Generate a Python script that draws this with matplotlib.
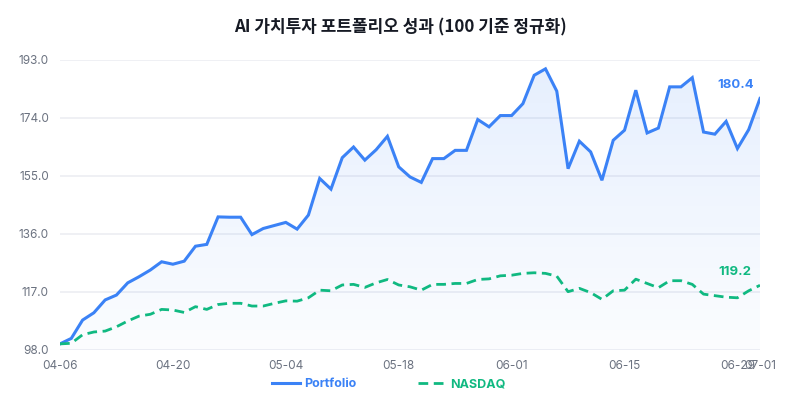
import matplotlib
matplotlib.use("Agg")
import matplotlib.pyplot as plt
import numpy as np
import pandas as pd
from matplotlib.colors import LinearSegmentedColormap

plt.rcParams['font.family'] = ['Inter', 'Noto Sans CJK KR', 'DejaVu Sans']

# 영업일 기준 (04-06 ~ 07-01)
dates = pd.bdate_range("2026-04-06", "2026-07-01").strftime("%m-%d").tolist()

portfolio = [
    100.0, 101.8, 107.8, 110.2, 114.4, 116.0, 120.0, 122.0, 124.2, 126.9,
    126.1, 127.1, 132.0, 132.6, 141.6, 141.5, 141.5, 135.8, 137.8, 138.8,
    139.8, 137.6, 142.2, 154.2, 150.7, 161.0, 164.5, 160.2, 163.6, 168.0,
    158.0, 154.7, 152.9, 160.7, 160.7, 163.4, 163.4, 173.5, 171.1, 174.8,
    174.8, 178.7, 188.0, 190.1, 182.8, 157.4, 166.4, 162.9, 153.6, 166.7,
    170.0, 183.1, 169.1, 170.7, 184.2, 184.2, 187.2, 169.4, 168.7, 172.9,
    164.0, 170.2, 180.4,
]
nasdaq = [
    100.0, 100.2, 103.0, 103.9, 104.2, 105.6, 107.5, 109.1, 109.7, 111.3,
    111.1, 110.3, 112.2, 111.3, 112.9, 113.3, 113.3, 112.4, 112.4, 113.3,
    114.1, 114.0, 115.1, 117.6, 117.4, 119.3, 119.5, 118.5, 120.0, 121.1,
    119.3, 118.7, 117.6, 119.5, 119.5, 119.8, 119.8, 121.1, 121.3, 122.3,
    122.5, 123.1, 123.3, 123.1, 122.2, 117.1, 118.2, 116.8, 114.6, 117.4,
    117.6, 121.2, 119.8, 118.4, 120.7, 120.7, 119.5, 116.3, 115.8, 115.3,
    115.1, 117.4, 119.2,
]
yticks = [98.0, 117.0, 136.0, 155.0, 174.0, 193.0]

BLUE = "#3b82f6"
GREEN = "#10b981"
GRAY = "#6b7280"

x = np.arange(len(dates))

fig = plt.figure(figsize=(8, 4), dpi=100)
ax = fig.add_axes([0.075, 0.125, 0.875, 0.725])

ymin, ymax = yticks[0], yticks[-1]

# 그라데이션 채우기
cmap = LinearSegmentedColormap.from_list("g", [(0.231, 0.510, 0.965, 0.02), (0.231, 0.510, 0.965, 0.13)])
poly = ax.fill_between(x, portfolio, ymin, color="none", lw=0)
grad = np.linspace(0, 1, 256).reshape(-1, 1)
im = ax.imshow(grad, cmap=cmap, aspect="auto", origin="lower",
               extent=[x[0], x[-1], ymin, ymax], zorder=1)
im.set_clip_path(poly.get_paths()[0], transform=ax.transData)

ax.plot(x, portfolio, color=BLUE, lw=2.2, label="Portfolio", zorder=3,
        solid_joinstyle="miter")
ax.plot(x, nasdaq, color=GREEN, lw=2.0, ls=(0, (3.5, 2)), label="NASDAQ", zorder=3)

ax.annotate(f"{portfolio[-1]:.1f}", (x[-1], portfolio[-1]), xytext=(-6, 13),
            textcoords="offset pixels", ha="right", va="center",
            color=BLUE, fontsize=9.5, fontweight="bold")
ax.annotate(f"{nasdaq[-1]:.1f}", (x[-1], nasdaq[-1]), xytext=(-9, 13),
            textcoords="offset pixels", ha="right", va="center",
            color=GREEN, fontsize=9.5, fontweight="bold")

ax.set_xlim(x[0], x[-1])
ax.set_ylim(ymin, ymax)
ax.set_yticks(yticks)
ax.set_yticklabels([f"{v:.1f}" for v in yticks])
tick_idx = list(range(0, len(dates), 10)) + [len(dates) - 1]
ax.set_xticks(tick_idx)
ax.set_xticklabels([dates[i] for i in tick_idx])
ax.tick_params(axis="both", length=0, colors=GRAY, labelsize=8.5)
ax.tick_params(axis="x", pad=7)
ax.tick_params(axis="y", pad=8)
ax.grid(axis="y", color="#eceef2", lw=1.2)
ax.set_axisbelow(True)
for s in ax.spines.values():
    s.set_visible(False)

fig.text(0.5, 0.932, "AI 가치투자 포트폴리오 성과 (100 기준 정규화)",
         ha="center", va="center", fontsize=12.2, fontweight="bold", color="#161a24",
         family=["Noto Sans CJK KR", "DejaVu Sans"])

fig.legend(loc="center", bbox_to_anchor=(0.486, 0.04), ncol=2, frameon=False,
           labelcolor="linecolor", prop={"size": 9, "weight": "bold"},
           handlelength=2.2, handletextpad=0.3, columnspacing=5.0)

fig.savefig("out.png", dpi=100)
